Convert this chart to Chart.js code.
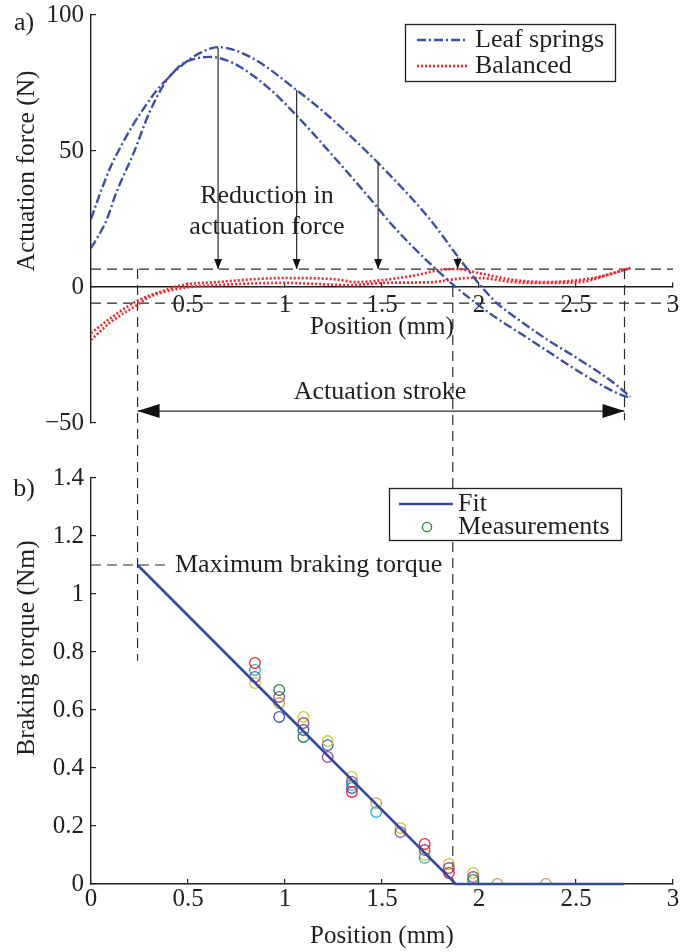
<!DOCTYPE html>
<html><head><meta charset="utf-8">
<script src="https://cdn.jsdelivr.net/npm/chart.js@4.4.1/dist/chart.umd.min.js"></script>
<style>
html,body{margin:0;padding:0;background:#fff;}
#wrap{position:relative;width:681px;height:952px;overflow:hidden;}
canvas{position:absolute;left:0;}
#cTop{top:0;} #cBot{top:452px;}
</style></head><body>
<div id="wrap"><canvas id="cTop" width="681" height="452"></canvas><canvas id="cBot" width="681" height="500"></canvas></div>
<script>
// ---------------- Panel a) data ----------------
const leafLoadX   = [0, 0.05, 0.10, 0.16, 0.22, 0.28, 0.34, 0.40, 0.47, 0.54, 0.61, 0.73, 0.91, 1.06, 1.23, 1.48, 1.53, 1.66, 1.80, 1.89, 1.99, 2.09, 2.26, 2.43, 2.61, 2.73, 2.78];
const leafLoadY   = [25, 35, 44, 52.5, 60, 66.5, 72.4, 77, 82, 84, 84.6, 82.4, 73.5, 63, 49.6, 29, 24.6, 14.7, 5.1, -0.6, -6.2, -11.4, -19.2, -27.2, -35.2, -39.6, -40.8];
const leafUnloadX = [0, 0.04, 0.08, 0.13, 0.22, 0.30, 0.39, 0.46, 0.56, 0.655, 0.82, 1.06, 1.23, 1.48, 1.75, 1.90, 2.0, 2.09, 2.20, 2.35, 2.52, 2.69, 2.78];
const leafUnloadY = [14.3, 19, 24.6, 34.6, 49.3, 64, 76, 81, 86, 88.2, 84.6, 72.4, 62.5, 45.6, 24.6, 10.3, 1.2, -5.8, -11.8, -19.3, -26.8, -35, -40.4];
const balLoadX    = [0, 0.1, 0.24, 0.39, 0.47, 0.65, 0.99, 1.25, 1.37, 1.51, 1.68, 1.80, 1.89, 2.0, 2.18, 2.35, 2.52, 2.66, 2.78];
const balLoadY    = [-17, -11.5, -5, -1, 0.7, 1.8, 3.3, 2.9, 1.8, 2.6, 4.4, 6.3, 6.6, 5.1, 2.6, 1.8, 2.6, 4.4, 7];
const balUnloadX  = [0, 0.1, 0.24, 0.30, 0.47, 0.65, 0.99, 1.34, 1.51, 1.76, 1.94, 2.0, 2.18, 2.35, 2.52, 2.69, 2.78];
const balUnloadY  = [-19.5, -13, -6.5, -3.7, -0.4, 0.7, 1.5, 0.7, 1.5, 1.8, 3.3, 3.3, 1.8, 1.5, 1.8, 5.1, 7];
const bandLevels  = [6.6, -5.9];
const strokeStart = 0.24, strokeEnd = 2.75, contactPos = 1.865, strokeArrowY = -45.6, strokeLineEnd = -49;
const reductionArrowX   = [0.655, 1.06, 1.48, 1.89];
const reductionArrowTop = [88, 72.4, 45.6, 11];
const topXTicks = [0, 0.5, 1, 1.5, 2, 2.5, 3];
const topYTicks = [-50, 0, 50, 100];
// ---------------- Panel b) data ----------------
const fitX = [0.24, 1.88, 2.75];
const fitY = [1.1, 0, 0];
const maxTorque = 1.1, maxTorqueDashEnd = 0.39, strokeMarkerBottom = 0.77;
const measX       = [0.845, 0.97, 1.095, 1.22, 1.345, 1.47, 1.595, 1.72, 1.845, 1.97, 2.095, 2.345];
const measRed     = [0.762, null, null, null, 0.317, null, null, 0.138, 0.038, null, null, null];
const measCyan    = [0.738, null, null, null, 0.341, 0.248, null, 0.090, null, null, null, null];
const measMagenta = [0.714, 0.645, 0.555, 0.438, 0.352, null, 0.179, 0.117, 0.055, 0.024, null, null];
const measYellow  = [0.693, null, 0.576, 0.493, 0.369, null, 0.193, 0.100, 0.069, 0.038, null, null];
const measGreen   = [null, 0.669, 0.507, null, null, null, null, null, null, 0.014, null, null];
const measGold    = [null, 0.624, null, null, null, 0.279, null, null, null, null, 0.0, 0.0];
const measBlue    = [null, 0.576, 0.531, 0.479, 0.331, null, null, null, null, null, null, null];
const botXTicks = [0, 0.5, 1, 1.5, 2, 2.5, 3];
const botYTicks = [0, 0.2, 0.4, 0.6, 0.8, 1, 1.2, 1.4];

// ---------------- styling ----------------
const FONT = '"Liberation Serif", "Times New Roman", serif';
const INK = '#231f20';
const LEAF = '#3a4fa6', RED = '#ee2a30', FIT = '#34489c', DASH = '#2a2a2a';
const pts = (xs, ys) => xs.map((x, i) => ({x, y: ys[i]})).filter(p => p.y !== null);

function head(ctx, xa, ya, xb, yb, L, W) {
  const a = Math.atan2(yb - ya, xb - xa), c = Math.cos(a), s = Math.sin(a);
  ctx.beginPath();
  ctx.moveTo(xb, yb);
  ctx.lineTo(xb - L * c + W * s, yb - L * s - W * c);
  ctx.lineTo(xb - L * c - W * s, yb - L * s + W * c);
  ctx.closePath(); ctx.fill();
}
function txt(ctx, s, x, y, size, align, rot) {
  ctx.save();
  ctx.font = size + 'px ' + FONT; ctx.fillStyle = INK;
  ctx.textAlign = align || 'center'; ctx.textBaseline = 'middle';
  ctx.translate(x, y); if (rot) ctx.rotate(rot);
  ctx.fillText(s, 0, 0);
  ctx.restore();
}
const annot = {
  id: 'annot',
  afterDraw(chart, args, o) {
    const ctx = chart.ctx, ca = chart.chartArea;
    const X = v => chart.scales.x.getPixelForValue(v), Y = v => chart.scales.y.getPixelForValue(v);
    ctx.save();
    (o.arrows || []).forEach(a => {
      const x0 = X(a.x0), y0 = Y(a.y0), x1 = X(a.x1), y1 = Y(a.y1);
      ctx.strokeStyle = '#2b2b2b'; ctx.fillStyle = '#111'; ctx.lineWidth = 1.2; ctx.setLineDash([]);
      ctx.beginPath(); ctx.moveTo(x0, y0); ctx.lineTo(x1, y1); ctx.stroke();
      head(ctx, x0, y0, x1, y1, a.L, a.W);
      if (a.both) head(ctx, x1, y1, x0, y0, a.L, a.W);
    });
    (o.texts || []).forEach(t => txt(ctx, t.s, X(t.x), Y(t.y), t.size || 26, t.align));
    // axis titles & panel label
    const cx = (ca.left + ca.right) / 2;
    txt(ctx, o.xTitle, cx, (o.xTitleFromZero ? Y(0) : ca.bottom) + o.xTitleDy, 25);
    txt(ctx, o.yTitle, ca.left - 64, ca.top + o.yTitleDy, 25.5, 'center', -Math.PI / 2);
    txt(ctx, o.panel, ca.left - 67, ca.top + o.panelDy, 26);
    // legend
    const lg = o.legend;
    const bx = ca.right - lg.right - lg.w, by = ca.top + lg.top;
    ctx.fillStyle = '#fff'; ctx.fillRect(bx, by, lg.w, lg.h);
    ctx.strokeStyle = INK; ctx.lineWidth = 1.3; ctx.setLineDash([]);
    ctx.strokeRect(bx + 0.5, by + 0.5, lg.w, lg.h);
    lg.items.forEach(it => {
      const ds = chart.data.datasets[it.ds], cy = by + it.dy;
      ctx.save();
      if (it.kind === 'line') {
        ctx.strokeStyle = ds.borderColor; ctx.lineWidth = ds.borderWidth; ctx.setLineDash(ds.borderDash || []);
        ctx.beginPath(); ctx.moveTo(bx + lg.sx0, cy); ctx.lineTo(bx + lg.sx1, cy); ctx.stroke();
      } else {
        ctx.strokeStyle = ds.borderColor; ctx.lineWidth = ds.borderWidth;
        ctx.beginPath(); ctx.arc(bx + lg.cx, cy, 4.6, 0, Math.PI * 2); ctx.stroke();
      }
      ctx.restore();
      txt(ctx, ds.label, bx + lg.tx, cy, 26, 'left');
    });
    ctx.restore();
  }
};

function axisX(ticksArr, pos, pad, fmt, h) {
  return {
    type: 'linear', min: 0, max: 3, position: pos,
    afterBuildTicks: s => { s.ticks = ticksArr.map(v => ({value: v})); },
    afterFit: s => { if (h) s.height = h; s.paddingLeft = 0; s.paddingRight = 0; s.paddingTop = 0; s.paddingBottom = 0; },
    ticks: {color: INK, font: {family: FONT, size: 25}, padding: pad, maxRotation: 0, autoSkip: false, callback: fmt},
    grid: {drawOnChartArea: false, drawTicks: true, tickLength: -5, color: INK, lineWidth: 1.2},
    border: {display: true, color: INK, width: 1.4}
  };
}
function axisY(ticksArr, mn, mx, fmt) {
  return {
    type: 'linear', min: mn, max: mx, position: 'left',
    afterBuildTicks: s => { s.ticks = ticksArr.map(v => ({value: v})); },
    afterFit: s => { s.width = 91; s.paddingTop = 0; s.paddingBottom = 0; s.paddingLeft = 0; s.paddingRight = 0; },
    ticks: {color: INK, font: {family: FONT, size: 25}, padding: 12, autoSkip: false, callback: fmt},
    grid: {drawOnChartArea: false, drawTicks: true, tickLength: -5, color: INK, lineWidth: 1.2},
    border: {display: true, color: INK, width: 1.4}
  };
}
const dashLine = (data) => ({label: 'guide', data, showLine: true, borderColor: DASH, borderWidth: 1.2, borderDash: [10, 6], pointRadius: 0, clip: false, tension: 0});
const curve = (label, xs, ys, color, dash, w) => ({label, data: pts(xs, ys), showLine: true, borderColor: color, borderWidth: w, borderDash: dash, pointRadius: 0, cubicInterpolationMode: 'monotone', fill: false});

// ---------------- Chart a) ----------------
new Chart(document.getElementById('cTop'), {
  type: 'scatter',
  data: {datasets: [
    curve('Leaf springs', leafLoadX, leafLoadY, LEAF, [9, 3, 2, 3], 2.4),
    curve('Leaf springs (return)', leafUnloadX, leafUnloadY, LEAF, [9, 3, 2, 3], 2.4),
    curve('Balanced', balLoadX, balLoadY, RED, [2, 2], 2.7),
    curve('Balanced (return)', balUnloadX, balUnloadY, RED, [2, 2], 2.7),
    dashLine([{x: 0, y: bandLevels[0]}, {x: 3, y: bandLevels[0]}]),
    dashLine([{x: 0, y: bandLevels[1]}, {x: 3, y: bandLevels[1]}]),
    dashLine([{x: strokeStart, y: bandLevels[0]}, {x: strokeStart, y: -100}]),
    dashLine([{x: contactPos, y: 0}, {x: contactPos, y: -100}]),
    dashLine([{x: strokeEnd, y: bandLevels[0]}, {x: strokeEnd, y: strokeLineEnd}])
  ]},
  options: {
    responsive: false, animation: false, devicePixelRatio: 1,
    layout: {padding: {top: 15, right: 8, bottom: 29, left: 0}},
    plugins: {
      legend: {display: false}, tooltip: {enabled: false},
      annot: {
        arrows: reductionArrowX.map((x, i) => ({x0: x, y0: reductionArrowTop[i], x1: x, y1: bandLevels[0], L: 10, W: 4}))
          .concat([{x0: strokeStart, y0: strokeArrowY, x1: strokeEnd, y1: strokeArrowY, L: 22, W: 7, both: true}]),
        texts: [{s: 'Reduction in', x: 0.907, y: 33.5}, {s: 'actuation force', x: 0.907, y: 22}, {s: 'Actuation stroke', x: 1.49, y: -38.6}],
        xTitle: 'Position (mm)', xTitleFromZero: true, xTitleDy: 40,
        yTitle: 'Actuation force (N)', yTitleDy: 156,
        panel: 'a)', panelDy: 8,
        legend: {right: 58, top: 9, w: 210, h: 57, sx0: 12, sx1: 63, tx: 70, cx: 38,
          items: [{ds: 0, dy: 16, kind: 'line'}, {ds: 2, dy: 42, kind: 'line'}]}
      }
    },
    scales: {
      x: axisX(topXTicks, {y: 0}, 8, v => v === 0 ? '' : String(v)),
      y: axisY(topYTicks, -50, 100, v => String(v).replace('-', '\u2212'))
    }
  },
  plugins: [annot]
});

// ---------------- Chart b) ----------------
const measSets = [
  ['#1a8a3e', measGreen], ['#e8262b', measRed], ['#1fb5c8', measCyan], ['#9b4a9e', measMagenta],
  ['#c8c83a', measYellow], ['#c9a23a', measGold], ['#3a55b5', measBlue]
].map(([c, ys]) => ({label: 'Measurements', data: pts(measX, ys), showLine: false, pointStyle: 'circle', pointRadius: 5.3, pointBorderWidth: 1.3, borderWidth: 1.3, borderColor: c, backgroundColor: 'rgba(0,0,0,0)', pointBackgroundColor: 'rgba(0,0,0,0)'}));

new Chart(document.getElementById('cBot'), {
  type: 'scatter',
  data: {datasets: [
    {label: 'Fit', data: pts(fitX, fitY), showLine: true, borderColor: FIT, borderWidth: 2.6, pointRadius: 0, tension: 0, clip: false},
    ...measSets,
    dashLine([{x: strokeStart, y: 3}, {x: strokeStart, y: strokeMarkerBottom}]),
    dashLine([{x: contactPos, y: 3}, {x: contactPos, y: 0}]),
    dashLine([{x: 0, y: maxTorque}, {x: maxTorqueDashEnd, y: maxTorque}])
  ]},
  options: {
    responsive: false, animation: false, devicePixelRatio: 1,
    layout: {padding: {top: 26, right: 8, bottom: 0, left: 0}},
    plugins: {
      legend: {display: false}, tooltip: {enabled: false},
      annot: {
        arrows: [],
        texts: [{s: 'Maximum braking torque', x: 0.433, y: maxTorque, align: 'left'}],
        xTitle: 'Position (mm)', xTitleFromZero: false, xTitleDy: 52,
        yTitle: 'Braking torque (Nm)', yTitleDy: 170,
        panel: 'b)', panelDy: 11,
        legend: {right: 52, top: 10, w: 232, h: 52, sx0: 10, sx1: 64, tx: 69, cx: 38,
          items: [{ds: 0, dy: 16, kind: 'line'}, {ds: 1, dy: 39, kind: 'circle'}]}
      }
    },
    scales: {
      x: axisX(botXTicks, 'bottom', 5, v => String(v), 68),
      y: axisY(botYTicks, 0, 1.4, v => String(v))
    }
  },
  plugins: [annot]
});
</script></body></html>
